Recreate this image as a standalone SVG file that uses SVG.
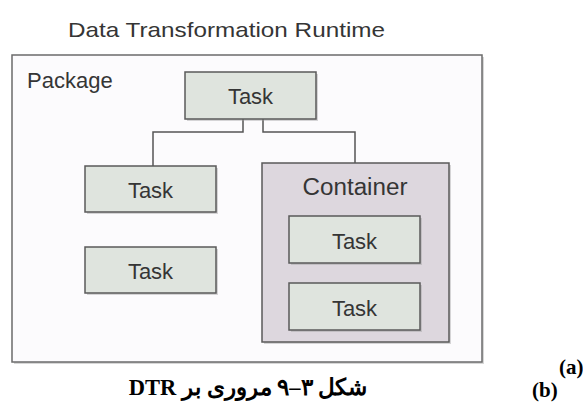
<svg xmlns="http://www.w3.org/2000/svg" width="583" height="403" viewBox="0 0 583 403">
<style>
.lbl{font-family:"Liberation Sans","DejaVu Sans",sans-serif;fill:#353535}
.task{fill:#dfe4de;stroke:#5a5a5a;stroke-width:1.5}
.shadow{fill:#9a9a9a;opacity:0.4}
.conn{fill:none;stroke:#555;stroke-width:1.5}
.cap{font-family:"Liberation Serif","Noto Sans",serif;font-weight:bold;fill:#000}
</style>
<rect width="583" height="403" fill="#ffffff"/>
<text class="lbl" x="68" y="37" font-size="21" textLength="317" lengthAdjust="spacingAndGlyphs">Data Transformation Runtime</text>
<g id="package">
<rect x="14" y="57" width="470" height="307" class="shadow"/>
<rect x="12" y="55" width="470" height="307" fill="#fcfbfd" stroke="#6b6b6b" stroke-width="1.5"/>
<text class="lbl" x="27" y="88" font-size="22">Package</text>
</g>
<g id="connectors">
<path class="conn" d="M243,119 V132 H153 V166"/>
<path class="conn" d="M263,119 V132 H355 V163"/>
</g>
<g id="task-top">
<rect x="187" y="74" width="131" height="47" class="shadow"/>
<rect x="185" y="72" width="131" height="47" class="task"/>
<text class="lbl" x="250.5" y="104" font-size="22" text-anchor="middle">Task</text>
</g>
<g id="task-left1">
<rect x="87" y="168" width="131" height="46" class="shadow"/>
<rect x="85" y="166" width="131" height="46" class="task"/>
<text class="lbl" x="150.5" y="198" font-size="22" text-anchor="middle">Task</text>
</g>
<g id="task-left2">
<rect x="87" y="249" width="131" height="46" class="shadow"/>
<rect x="85" y="247" width="131" height="46" class="task"/>
<text class="lbl" x="150.5" y="279" font-size="22" text-anchor="middle">Task</text>
</g>
<g id="container">
<rect x="264" y="165" width="187" height="179" class="shadow"/>
<rect x="262" y="163" width="187" height="179" fill="#ddd7de" stroke="#5a5a5a" stroke-width="1.5"/>
<text class="lbl" x="355" y="195" font-size="23" text-anchor="middle" textLength="105" lengthAdjust="spacingAndGlyphs">Container</text>
</g>
<g id="task-inner1">
<rect x="291" y="218" width="131" height="47" class="shadow"/>
<rect x="289" y="216" width="131" height="47" class="task"/>
<text class="lbl" x="354.5" y="249" font-size="22" text-anchor="middle">Task</text>
</g>
<g id="task-inner2">
<rect x="291" y="285" width="131" height="47" class="shadow"/>
<rect x="289" y="283" width="131" height="47" class="task"/>
<text class="lbl" x="354.5" y="316" font-size="22" text-anchor="middle">Task</text>
</g>
<text class="cap" x="559" y="374" font-size="21">(a)</text>
<text class="cap" x="532" y="397" font-size="21">(b)</text>
<text class="cap" x="248" y="395" font-size="22.5" text-anchor="middle" direction="rtl">شکل ۳–۹ مروری بر DTR</text>
</svg>
